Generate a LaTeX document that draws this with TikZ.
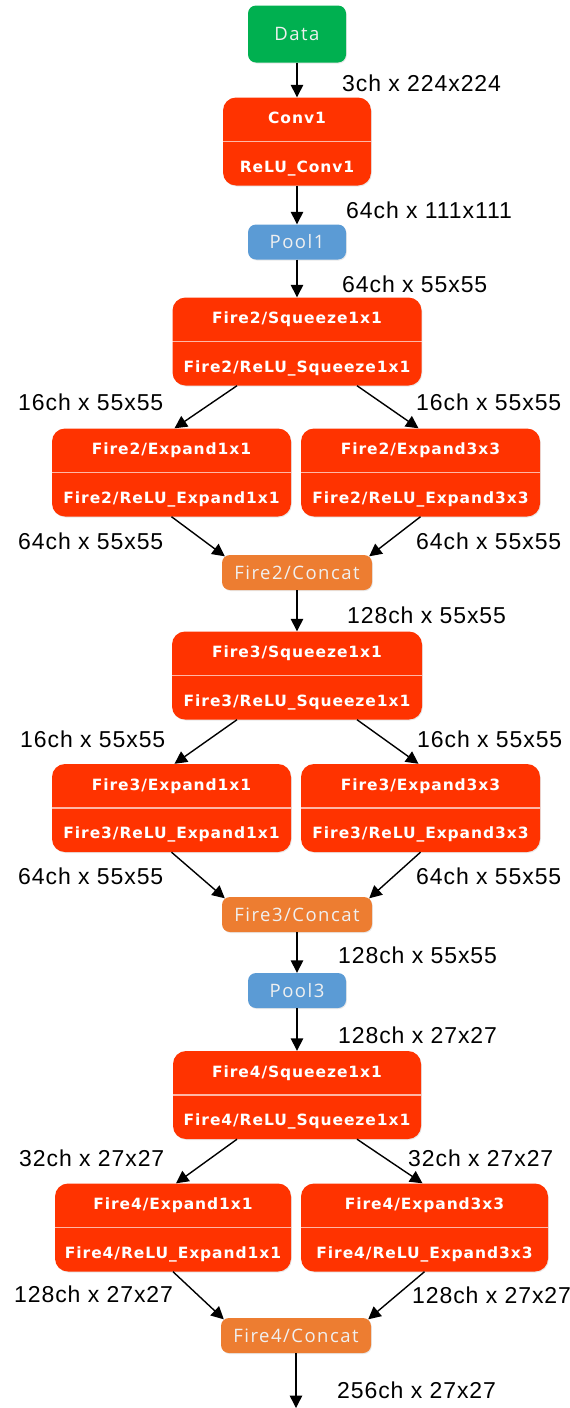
\documentclass[tikz,border=0pt]{standalone}
\usepackage{fontspec}
\setmainfont{Liberation Sans}
\newfontfamily\boxfont[LetterSpace=6]{DejaVu Sans}
\newfontfamily\tagfont[LetterSpace=8]{Open Sans}
\newfontfamily\dimfont[LetterSpace=4]{Liberation Sans}
\usetikzlibrary{arrows.meta,shadows}

\definecolor{datagreen}{HTML}{00B050}
\definecolor{firered}{HTML}{FF3300}
\definecolor{poolblue}{HTML}{5B9BD5}
\definecolor{catorange}{HTML}{ED7D31}

\tikzset{
  softshadow/.style={drop shadow={opacity=0.18, shadow xshift=0.8pt, shadow yshift=-1pt}},
  tag/.style={rounded corners=8pt, inner sep=0pt, text=white!94!black,
    font=\tagfont\fontsize{18.5}{18.5}\selectfont, text height=13.2pt, text depth=0pt,
    softshadow},
  datanode/.style={tag, fill=datagreen, minimum width=98pt, minimum height=57pt},
  poolnode/.style={tag, fill=poolblue, minimum width=98pt, minimum height=35pt},
  catnode/.style={tag, fill=catorange, minimum width=150pt, minimum height=35pt},
  layer/.style={fill=firered, rounded corners=13pt, inner sep=0pt,
    minimum height=88pt, softshadow},
  divider/.style={draw=white, draw opacity=0.65, line width=1.2pt},
  ttl/.style={font=\boxfont\bfseries\fontsize{15.5}{15.5}\selectfont, text=white,
    inner sep=0pt, text height=11.3pt, text depth=0pt},
  dim/.style={font=\dimfont\fontsize{23}{23}\selectfont, inner sep=0pt,
    anchor=west, text height=16.5pt, text depth=0pt},
  arr/.style={-{Triangle[length=12.5pt,width=12.5pt]}, line width=1.4pt},
}

% two-part layer box: name, x, y, width, upper text, lower text
\newcommand\layerbox[6]{%
  \node[layer, minimum width=#4] (#1) at (#2,#3) {};
  \draw[divider] (#1.west) -- (#1.east);
  \node[ttl] (#1-a) at ([yshift=23.5pt]#1.center) {#5};
  \node[ttl] (#1-b) at ([yshift=-25pt]#1.center) {#6};
}

\begin{document}
\begin{tikzpicture}[x=1pt, y=-1pt]
\useasboundingbox (0,0) rectangle (570,1408);

% stem
\node[datanode] (data) at (297,34) {Data};
\layerbox{conv1}{297}{141.5}{148pt}{Conv1}{ReLU\_Conv1}
\node[poolnode] (pool1) at (297,242) {Pool1};

% fire 2
\layerbox{f2s}{297}{341.5}{249pt}{Fire2/Squeeze1x1}{Fire2/ReLU\_Squeeze1x1}
\layerbox{f2a}{171.5}{472.5}{239pt}{Fire2/Expand1x1}{Fire2/ReLU\_Expand1x1}
\layerbox{f2b}{420.5}{472.5}{239pt}{Fire2/Expand3x3}{Fire2/ReLU\_Expand3x3}
\node[catnode] (f2c) at (297,572.5) {Fire2/Concat};

% fire 3
\layerbox{f3s}{297}{675.5}{250pt}{Fire3/Squeeze1x1}{Fire3/ReLU\_Squeeze1x1}
\layerbox{f3a}{171.5}{808}{239pt}{Fire3/Expand1x1}{Fire3/ReLU\_Expand1x1}
\layerbox{f3b}{420.5}{808}{239pt}{Fire3/Expand3x3}{Fire3/ReLU\_Expand3x3}
\node[catnode] (f3c) at (297,914.5) {Fire3/Concat};
\node[poolnode] (pool3) at (297,990.5) {Pool3};

% fire 4
\layerbox{f4s}{297}{1095}{248pt}{Fire4/Squeeze1x1}{Fire4/ReLU\_Squeeze1x1}
\layerbox{f4a}{173}{1227.5}{236pt}{Fire4/Expand1x1}{Fire4/ReLU\_Expand1x1}
\layerbox{f4b}{424.5}{1227.5}{247pt}{Fire4/Expand3x3}{Fire4/ReLU\_Expand3x3}
\node[catnode] (f4c) at (296,1335.5) {Fire4/Concat};
\coordinate (out) at (296,1408);

% straight connections
\draw[arr] (data) -- (conv1);
\draw[arr] (conv1) -- (pool1);
\draw[arr] (pool1) -- (f2s);
\draw[arr] (f2c) -- (f3s);
\draw[arr] (f3c) -- (pool3);
\draw[arr] (pool3) -- (f4s);
\draw[arr] (f4c) -- (out);

% branching connections
\foreach \s/\a/\b/\c in {f2s/f2a/f2b/f2c, f3s/f3a/f3b/f3c, f4s/f4a/f4b/f4c}{
  \draw[arr] ([xshift=-60pt]\s.south) -- ([xshift=3pt]\a.north);
  \draw[arr] ([xshift=60pt]\s.south) -- ([xshift=-2pt]\b.north);
  \draw[arr] (\a.south) -- ([shift={(3pt,-1.5pt)}]\c.north west);
  \draw[arr] (\b.south) -- ([shift={(-3pt,-1.5pt)}]\c.north east);
}

% tensor shapes
\node[dim] (d1) at (342,83) {3ch x 224x224};
\node[dim] (d2) at (346,210) {64ch x 111x111};
\node[dim] (d3) at (342,284) {64ch x 55x55};
\node[dim] (d4) at (18,402) {16ch x 55x55};
\node[dim] (d5) at (416,402) {16ch x 55x55};
\node[dim] (d6) at (18,541) {64ch x 55x55};
\node[dim] (d7) at (416,541) {64ch x 55x55};
\node[dim] (d8) at (347,615) {128ch x 55x55};
\node[dim] (d9) at (20,739) {16ch x 55x55};
\node[dim] (d10) at (417,739) {16ch x 55x55};
\node[dim] (d11) at (18,876) {64ch x 55x55};
\node[dim] (d12) at (416,876) {64ch x 55x55};
\node[dim] (d13) at (338,955) {128ch x 55x55};
\node[dim] (d14) at (338,1035) {128ch x 27x27};
\node[dim] (d15) at (19,1158) {32ch x 27x27};
\node[dim] (d16) at (408,1158) {32ch x 27x27};
\node[dim] (d17) at (14,1294) {128ch x 27x27};
\node[dim] (d18) at (412,1295) {128ch x 27x27};
\node[dim] (d19) at (337,1390) {256ch x 27x27};
\end{tikzpicture}
\end{document}
